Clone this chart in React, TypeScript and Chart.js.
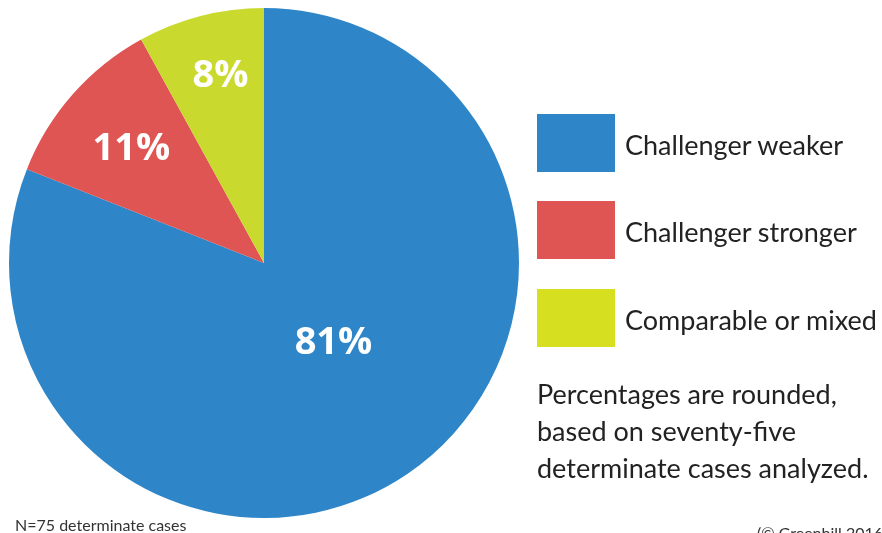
import React, { useEffect, useRef } from "react";
import { Chart, registerables } from "chart.js";

Chart.register(...registerables);

const categories = ["Challenger weaker", "Challenger stronger", "Comparable or mixed"];
const percentages = [81, 11, 8];
const sliceLabels = ["81%", "11%", "8%"];
const sliceColors = ["#2E86C8", "#DE5553", "#C9D92E"];
const legendColors = ["#2E86C8", "#DE5553", "#D6E020"];
const noteLines = ["Percentages are rounded,", "based on seventy-five", "determinate cases analyzed."];
const footnote = "N=75 determinate cases";
const credit = "(© Greenhill 2016)";

const FONT = "'Open Sans', 'Noto Sans', sans-serif";
const TEXT_FONT = "Lato, 'Open Sans', sans-serif";

// label placement: radial fraction and angle offset (radians) per slice
const labelRadius = [0.41, 0.69, 0.76];
const labelAngleOffset = [-0.13, -0.005, 0.025];

const labelPlugin = {
  id: "sliceLabels",
  afterDatasetsDraw(chart: any) {
    const ctx = chart.ctx;
    const meta = chart.getDatasetMeta(0);
    const size = 38;
    ctx.save();
    ctx.fillStyle = "#ffffff";
    ctx.textAlign = "center";
    ctx.textBaseline = "alphabetic";
    ctx.font = `bold ${size}px ${FONT}`;
    meta.data.forEach((arc: any, i: number) => {
      const p = arc.getProps(["x", "y", "startAngle", "endAngle", "outerRadius"], true);
      const a = (p.startAngle + p.endAngle) / 2 + labelAngleOffset[i];
      const r = p.outerRadius * labelRadius[i];
      ctx.fillText(sliceLabels[i], p.x + Math.cos(a) * r, p.y + Math.sin(a) * r + size * 0.34);
    });
    ctx.restore();
  },
};

export default function App() {
  const ref = useRef<HTMLCanvasElement | null>(null);

  useEffect(() => {
    if (!ref.current) return;
    const chart = new Chart(ref.current, {
      type: "pie",
      data: {
        labels: categories,
        datasets: [
          {
            data: percentages,
            backgroundColor: sliceColors,
            borderWidth: 0,
          },
        ],
      },
      options: {
        responsive: false,
        animation: false,
        layout: { padding: { left: 9, right: 363, top: 8, bottom: 15 } },
        plugins: {
          legend: { display: false },
          tooltip: { enabled: false },
        },
      },
      plugins: [labelPlugin],
    });
    return () => chart.destroy();
  }, []);

  const swatchTops = [114, 201, 289];

  return (
    <div
      style={{
        position: "fixed",
        left: 0,
        top: 0,
        width: 882,
        height: 533,
        overflow: "hidden",
        background: "#ffffff",
        fontFamily: TEXT_FONT,
      }}
    >
      <canvas ref={ref} width={882} height={533} style={{ position: "absolute", left: 0, top: 0 }} />
      {categories.map((c, i) => (
        <div key={c}>
          <div
            style={{
              position: "absolute",
              left: 537,
              top: swatchTops[i],
              width: 78,
              height: 58,
              background: legendColors[i],
            }}
          />
          <div
            style={{
              position: "absolute",
              left: 625,
              top: swatchTops[i] + 12,
              height: 38,
              lineHeight: "38px",
              fontSize: 27,
              color: "#222222",
              whiteSpace: "nowrap",
            }}
          >
            {c}
          </div>
        </div>
      ))}
      <div
        style={{
          position: "absolute",
          left: 537,
          top: 375,
          fontSize: 27,
          lineHeight: "37px",
          color: "#222222",
          whiteSpace: "nowrap",
        }}
      >
        {noteLines.map((l) => (
          <div key={l}>{l}</div>
        ))}
      </div>
      <div
        style={{
          position: "absolute",
          left: 15,
          top: 515,
          fontSize: 16,
          lineHeight: "20px",
          color: "#333333",
          whiteSpace: "nowrap",
        }}
      >
        {footnote}
      </div>
      <div
        style={{
          position: "absolute",
          left: 757,
          top: 523,
          fontSize: 16,
          lineHeight: "20px",
          color: "#333333",
          whiteSpace: "nowrap",
        }}
      >
        {credit}
      </div>
    </div>
  );
}
